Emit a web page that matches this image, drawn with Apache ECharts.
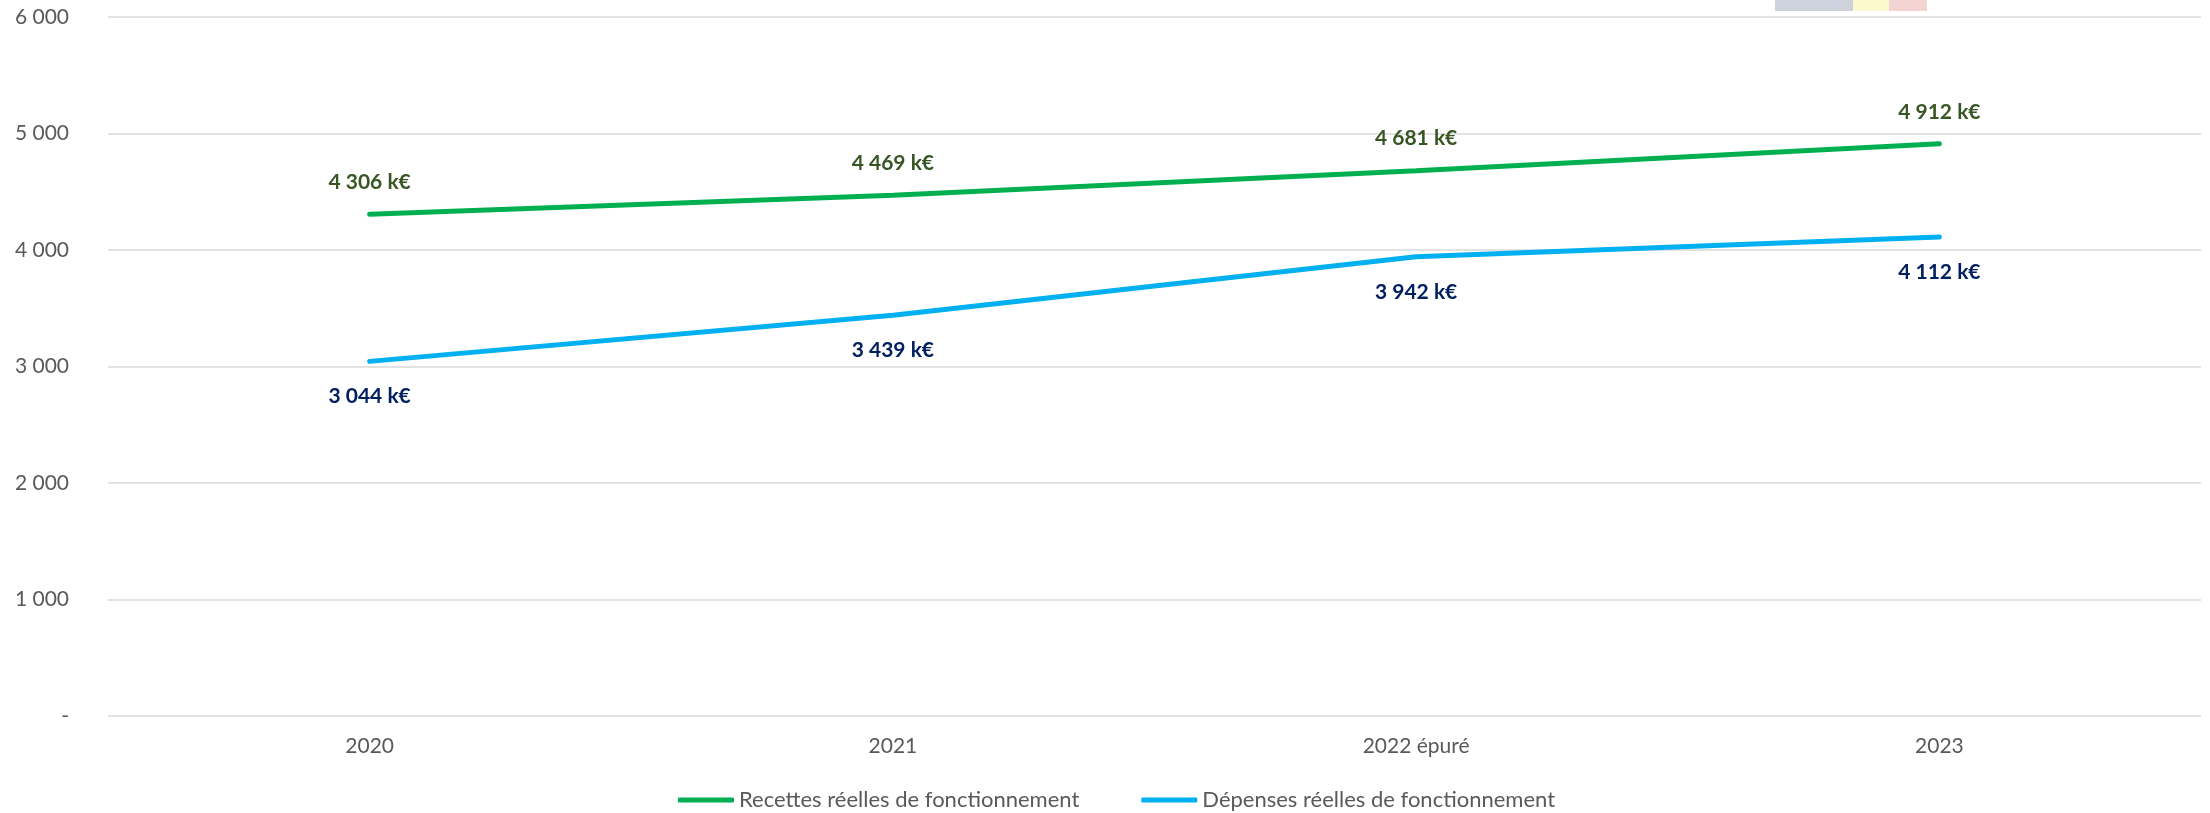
<!DOCTYPE html>
<html>
<head>
<meta charset="UTF-8"/>
<title>Recettes et dépenses réelles de fonctionnement</title>
<script src="https://cdn.jsdelivr.net/npm/echarts@6/dist/echarts.min.js"></script>
<style>
  html, body { margin: 0; padding: 0; background: #fff; }
  #chart { width: 2210px; height: 813px; }
</style>
</head>
<body>
<div id="chart"></div>
<script>
// données (k€)
var categories = ['2020', '2021', '2022 épuré', '2023'];
var recettes = [4306, 4469, 4681, 4912];
var depenses = [3044, 3439, 3942, 4112];
var seriesNames = ['Recettes réelles de fonctionnement', 'Dépenses réelles de fonctionnement'];

function fmtNum(v) {
  return String(Math.round(v)).replace(/\B(?=(\d{3})+(?!\d))/g, ' ');
}

var font = 'Lato, "Open Sans", sans-serif';
var myChart = echarts.init(document.getElementById('chart'));

var option = {
  animation: false,
  backgroundColor: '#fff',
  textStyle: { fontFamily: font },
  grid: { left: 108, right: 9, top: 17, bottom: 97 },
  legend: {
    top: 784,
    left: 673,
    itemWidth: 56,
    itemHeight: 5,
    itemGap: 62,
    icon: 'roundRect',
    textStyle: { fontFamily: font, fontSize: 22, color: '#595959' },
    data: seriesNames
  },
  xAxis: {
    type: 'category',
    data: categories,
    boundaryGap: true,
    axisLine: { show: false },
    axisTick: { show: false },
    axisLabel: { color: '#595959', fontSize: 21, margin: 20, fontFamily: font }
  },
  yAxis: {
    type: 'value',
    min: 0,
    max: 6000,
    interval: 1000,
    axisLine: { show: false },
    axisTick: { show: false },
    splitLine: { lineStyle: { color: '#d9d9d9', width: 1.5 } },
    axisLabel: {
      color: '#595959', fontSize: 21, margin: 39, fontFamily: font,
      formatter: function (v) { return v === 0 ? '-' : fmtNum(v); }
    }
  },
  series: [
    {
      name: seriesNames[0],
      type: 'line',
      data: recettes,
      symbol: 'circle',
      symbolSize: 1,
      showSymbol: true,
      itemStyle: { color: '#00B050' },
      lineStyle: { color: '#00B050', width: 5, cap: 'round' },
      label: {
        show: true, position: 'top', distance: 21,
        fontFamily: font, fontSize: 21, fontWeight: 'bold', color: '#375623',
        formatter: function (p) { return fmtNum(p.value) + ' k€'; }
      }
    },
    {
      name: seriesNames[1],
      type: 'line',
      data: depenses,
      symbol: 'circle',
      symbolSize: 1,
      showSymbol: true,
      itemStyle: { color: '#00B0F0' },
      lineStyle: { color: '#00B0F0', width: 5, cap: 'round' },
      label: {
        show: true, position: 'bottom', distance: 24,
        fontFamily: font, fontSize: 21, fontWeight: 'bold', color: '#002060',
        formatter: function (p) { return fmtNum(p.value) + ' k€'; }
      }
    }
  ],
  // bandeau coloré coupé en haut à droite (reste d'un tableau dans l'original)
  graphic: [
    { type: 'rect', shape: { x: 1775, y: 0, width: 78, height: 11 }, style: { fill: '#CED2DC' } },
    { type: 'rect', shape: { x: 1853, y: 0, width: 36, height: 11 }, style: { fill: '#FDF9CE' } },
    { type: 'rect', shape: { x: 1889, y: 0, width: 38, height: 11 }, style: { fill: '#F4D3D3' } }
  ]
};

myChart.setOption(option);
</script>
</body>
</html>
